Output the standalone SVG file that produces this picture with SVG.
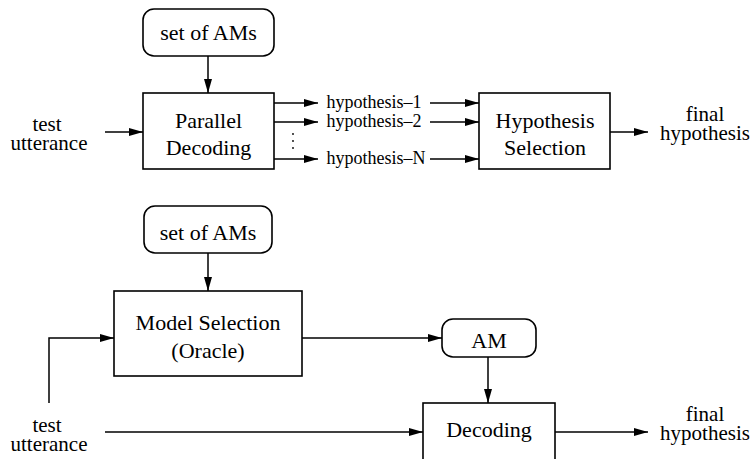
<svg xmlns="http://www.w3.org/2000/svg" width="753" height="459" viewBox="0 0 753 459" font-family="'Liberation Serif', 'Times New Roman', Times, serif">
<style>
text{font-family:'Liberation Serif','Times New Roman',Times,serif;fill:#000;text-anchor:middle}
.t{font-size:22px}
.s{font-size:18px}
.u{font-size:21px}
.b{fill:#fff;stroke:#000;stroke-width:1.6}
.c{fill:none;stroke:#000;stroke-width:1.5}
</style>
<defs>
<marker id="a" markerWidth="14" markerHeight="8" refX="14" refY="4" orient="auto" markerUnits="userSpaceOnUse">
<path d="M0,0 L14,4 L0,8 Z" fill="#000"/>
</marker>
</defs>
<rect width="753" height="459" fill="#fff"/>
<g id="connectors">
<line class="c" x1="208" y1="56" x2="208" y2="93" marker-end="url(#a)"/>
<line class="c" x1="105" y1="132" x2="143" y2="132" marker-end="url(#a)"/>
<line class="c" x1="274" y1="103" x2="318" y2="103" marker-end="url(#a)"/>
<line class="c" x1="274" y1="122" x2="318" y2="122" marker-end="url(#a)"/>
<line class="c" x1="274" y1="159" x2="318" y2="159" marker-end="url(#a)"/>
<line class="c" x1="430" y1="103" x2="479" y2="103" marker-end="url(#a)"/>
<line class="c" x1="430" y1="122" x2="479" y2="122" marker-end="url(#a)"/>
<line class="c" x1="430" y1="159" x2="479" y2="159" marker-end="url(#a)"/>
<line class="c" x1="610" y1="132" x2="648" y2="132" marker-end="url(#a)"/>
<line class="c" x1="208" y1="253" x2="208" y2="291" marker-end="url(#a)"/>
<polyline class="c" points="49,403 49,338 114,338" marker-end="url(#a)"/>
<line class="c" x1="302" y1="338" x2="442" y2="338" marker-end="url(#a)"/>
<line class="c" x1="488" y1="357" x2="488" y2="403" marker-end="url(#a)"/>
<line class="c" x1="105" y1="432" x2="423" y2="432" marker-end="url(#a)"/>
<line class="c" x1="555" y1="432" x2="648" y2="432" marker-end="url(#a)"/>
</g>
<g id="setAMs1">
<rect class="b" x="143" y="9" width="131" height="47" rx="11"/>
<text class="t" x="208.5" y="40">set of AMs</text>
</g>
<g id="parallel">
<rect class="b" x="143" y="93" width="131" height="76"/>
<text class="t" x="208.5" y="128">Parallel</text>
<text class="t" x="208.5" y="155">Decoding</text>
</g>
<g id="dots" fill="#000">
<circle cx="293" cy="134" r="0.9"/>
<circle cx="293" cy="141" r="0.9"/>
<circle cx="293" cy="148" r="0.9"/>
</g>
<g id="hyp-labels">
<text class="s" x="374" y="108">hypothesis–1</text>
<text class="s" x="374" y="127">hypothesis–2</text>
<text class="s" x="376" y="164">hypothesis–N</text>
</g>
<g id="test1">
<text class="u" x="47" y="131">test</text>
<text class="u" x="49" y="150">utterance</text>
</g>
<g id="hypsel">
<rect class="b" x="479" y="93" width="131" height="76"/>
<text class="t" x="545" y="128">Hypothesis</text>
<text class="t" x="545" y="155">Selection</text>
</g>
<g id="final1">
<text class="u" x="705" y="121">final</text>
<text class="u" x="705" y="140">hypothesis</text>
</g>
<g id="setAMs2">
<rect class="b" x="144" y="206" width="128" height="47" rx="11"/>
<text class="t" x="208" y="240">set of AMs</text>
</g>
<g id="modelsel">
<rect class="b" x="114" y="291" width="188" height="85"/>
<text class="t" x="208" y="330">Model Selection</text>
<text class="t" x="208" y="358">(Oracle)</text>
</g>
<g id="am">
<rect class="b" x="442" y="319" width="94" height="38" rx="11"/>
<text class="t" x="489" y="348">AM</text>
</g>
<g id="test2">
<text class="u" x="47" y="432">test</text>
<text class="u" x="49" y="451">utterance</text>
</g>
<g id="decoding">
<rect class="b" x="423" y="403" width="132" height="70"/>
<text class="t" x="489" y="437">Decoding</text>
</g>
<g id="final2">
<text class="u" x="705" y="421">final</text>
<text class="u" x="705" y="440">hypothesis</text>
</g>
</svg>
